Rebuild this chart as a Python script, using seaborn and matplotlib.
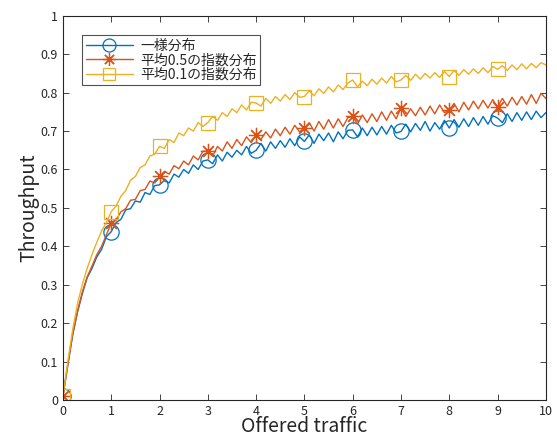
import numpy as np
import pandas as pd
import matplotlib
matplotlib.use('Agg')
import matplotlib.pyplot as plt
import seaborn as sns

# オファードトラフィック (0.1刻み)
traffic = np.round(np.arange(0, 10.01, 0.1), 1)

# 一様分布
uniform = [0.010, 0.090, 0.168, 0.228, 0.276, 0.318, 0.342, 0.372, 0.392, 0.425,
           0.438, 0.462, 0.470, 0.495, 0.498, 0.518, 0.515, 0.540, 0.535, 0.558,
           0.560, 0.572, 0.565, 0.588, 0.580, 0.600, 0.590, 0.612, 0.600, 0.622,
           0.625, 0.615, 0.638, 0.622, 0.645, 0.632, 0.650, 0.638, 0.660, 0.642,
           0.650, 0.668, 0.648, 0.672, 0.655, 0.675, 0.658, 0.680, 0.662, 0.685,
           0.673, 0.690, 0.668, 0.692, 0.675, 0.695, 0.672, 0.698, 0.680, 0.702,
           0.703, 0.685, 0.708, 0.688, 0.710, 0.690, 0.712, 0.692, 0.715, 0.695,
           0.699, 0.718, 0.698, 0.720, 0.702, 0.725, 0.700, 0.722, 0.705, 0.728,
           0.708, 0.730, 0.710, 0.732, 0.712, 0.735, 0.715, 0.738, 0.718, 0.740,
           0.734, 0.722, 0.745, 0.725, 0.748, 0.728, 0.750, 0.730, 0.752, 0.735,
           0.748]

# 平均0.5の指数分布
exp05 = [0.010, 0.092, 0.170, 0.230, 0.280, 0.320, 0.348, 0.378, 0.400, 0.430,
         0.460, 0.468, 0.490, 0.498, 0.520, 0.522, 0.545, 0.548, 0.570, 0.565,
         0.582, 0.595, 0.588, 0.610, 0.602, 0.622, 0.612, 0.635, 0.625, 0.648,
         0.647, 0.635, 0.660, 0.648, 0.672, 0.655, 0.678, 0.662, 0.685, 0.670,
         0.690, 0.678, 0.698, 0.682, 0.705, 0.688, 0.710, 0.692, 0.715, 0.698,
         0.708, 0.722, 0.700, 0.725, 0.705, 0.730, 0.708, 0.732, 0.712, 0.735,
         0.738, 0.718, 0.742, 0.722, 0.745, 0.725, 0.750, 0.728, 0.752, 0.732,
         0.760, 0.738, 0.758, 0.740, 0.762, 0.742, 0.765, 0.745, 0.768, 0.748,
         0.755, 0.772, 0.750, 0.775, 0.755, 0.778, 0.758, 0.780, 0.760, 0.782,
         0.762, 0.785, 0.765, 0.788, 0.768, 0.790, 0.770, 0.795, 0.772, 0.798,
         0.785]

# 平均0.1の指数分布
exp01 = [0.010, 0.100, 0.182, 0.250, 0.300, 0.342, 0.378, 0.410, 0.440, 0.462,
         0.490, 0.505, 0.530, 0.545, 0.572, 0.582, 0.605, 0.612, 0.635, 0.640,
         0.660, 0.655, 0.678, 0.670, 0.695, 0.688, 0.708, 0.700, 0.722, 0.712,
         0.722, 0.738, 0.728, 0.748, 0.738, 0.758, 0.748, 0.768, 0.755, 0.775,
         0.773, 0.765, 0.785, 0.772, 0.790, 0.778, 0.795, 0.782, 0.800, 0.788,
         0.790, 0.805, 0.792, 0.810, 0.798, 0.815, 0.802, 0.820, 0.808, 0.825,
         0.833, 0.815, 0.830, 0.818, 0.835, 0.822, 0.838, 0.825, 0.842, 0.828,
         0.833, 0.845, 0.832, 0.848, 0.835, 0.850, 0.838, 0.852, 0.840, 0.855,
         0.842, 0.858, 0.845, 0.860, 0.848, 0.862, 0.850, 0.865, 0.852, 0.868,
         0.861, 0.870, 0.858, 0.872, 0.860, 0.875, 0.862, 0.876, 0.865, 0.878,
         0.872]

labels = ['一様分布', '平均0.5の指数分布', '平均0.1の指数分布']
colors = ['#0072BD', '#D95319', '#EDB120']
markers = ['o', (8, 2, 0), 's']
msizes = [11, 11, 10]

sns.set_style('ticks')
plt.rcParams['font.family'] = ['Noto Sans CJK JP', 'DejaVu Sans']
plt.rcParams['xtick.direction'] = 'in'
plt.rcParams['ytick.direction'] = 'in'

fig = plt.figure(figsize=(5.57, 4.40), dpi=100)
ax = fig.add_axes([0.113, 0.091, 0.867, 0.873])

marks = list(range(0, 100, 10))
for ys, lab, c, m, ms in zip([uniform, exp05, exp01], labels, colors, markers, msizes):
    sns.lineplot(x=traffic, y=ys, ax=ax, color=c, label=lab, linewidth=1.0,
                 marker=m, markersize=ms, markevery=marks, mfc='none',
                 mec=c, mew=0.9, sort=False)

ax.set_xlim(0, 10)
ax.set_ylim(0, 1)
ax.set_xticks(range(0, 11))
ax.set_yticks(np.round(np.arange(0, 1.01, 0.1), 1))
ax.set_yticklabels(['0', '0.1', '0.2', '0.3', '0.4', '0.5', '0.6', '0.7', '0.8', '0.9', '1'])
ax.tick_params(top=True, right=True, labelsize=9, length=4, width=0.6, colors='#262626')
for s in ax.spines.values():
    s.set_linewidth(0.8)
    s.set_color('#262626')
ax.set_xlabel('Offered traffic', fontsize=14, labelpad=-1)
ax.set_ylabel('Throughput', fontsize=14, labelpad=1)

leg = ax.legend(loc='upper left', bbox_to_anchor=(0.04, 0.95), fontsize=10,
                handlelength=3.4, frameon=True, fancybox=False, borderpad=0.25,
                labelspacing=0.05, handletextpad=0.5, borderaxespad=0,
                markerscale=0.85)
leg.get_frame().set_edgecolor('#262626')
leg.get_frame().set_linewidth(0.8)

fig.savefig('out.png', dpi=100)
